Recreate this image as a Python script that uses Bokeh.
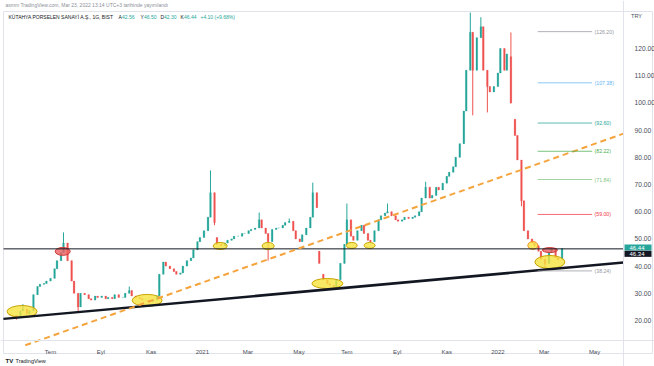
import pandas as pd
from bokeh.plotting import figure
from bokeh.models import (ColumnDataSource, Range1d, FixedTicker, NumeralTickFormatter,
                          CustomJSTickFormatter, Label, LinearAxis, DatetimeAxis, BoxAnnotation)
from bokeh.embed import file_html
from bokeh.resources import INLINE
from bokeh.core.properties import value

FONT = "Liberation Sans"
UP, DOWN = "#26a69a", "#ef5350"
DAY = 86400000

# ---------------- data ----------------
start_date = "2020-05-12"          # first bar, bars every 3 business days
first_open = 22.3
closes = [
    22.0, 21.8, 21.0, 23.5, 24.2, 22.5, 23.6, 29.5, 32.5, 33.3,
    33.6, 34.5, 35.5, 39.0, 42.0, 45.0, 48.5, 42.0, 34.5, 30.0,
    25.0, 30.0, 29.5, 28.0, 27.5, 29.0, 28.5, 29.0, 28.0, 28.5,
    28.0, 29.5, 28.5, 28.5, 30.0, 31.0, 29.0, 28.5, 28.0, 27.5,
    27.5, 27.0, 27.5, 29.0, 37.0, 41.5, 40.0, 39.0, 38.0, 37.0,
    37.5, 40.0, 42.0, 43.0, 46.0, 49.0, 50.5, 53.0, 58.0, 67.0,
    56.0, 48.0, 47.5, 48.5, 49.5, 50.0, 51.0, 51.0, 52.0, 52.0,
    53.0, 53.5, 54.0, 57.0, 54.0, 52.0, 49.0, 53.5, 54.0, 54.0,
    55.0, 56.0, 56.5, 53.0, 50.0, 49.0, 51.5, 54.0, 58.0, 67.0,
    61.5, 41.0, 35.0, 33.5, 33.0, 32.5, 35.0, 41.0, 48.0, 57.0,
    51.0, 49.5, 53.0, 55.0, 52.0, 49.5, 49.0, 53.0, 57.0, 58.5,
    59.5, 60.0, 58.5, 57.0, 56.5, 57.0, 58.0, 57.5, 58.0, 58.5,
    60.0, 65.0, 69.0, 65.0, 66.0, 69.0, 68.0, 70.5, 73.0, 74.5,
    76.5, 80.0, 85.0, 97.0, 112.0, 126.0, 112.0, 124.0, 128.0, 112.0,
    106.0, 104.0, 106.0, 111.0, 120.0, 112.0, 118.0, 100.0, 88.0, 79.0,
    64.0, 53.0, 50.0, 48.5, 47.5, 45.5, 42.5, 41.0, 45.0, 46.5,
    43.0, 42.34, 46.44,
]
gap_opens = {61: 50.5, 91: 45.5, 92: 37.0, 147: 117.0, 148: 94.0, 162: 42.56}
wick_highs = {4: 26.0, 16: 52.4, 35: 32.5, 59: 75.2, 73: 59.7, 82: 57.5, 89: 70.7,
              99: 63.0, 111: 63.0, 122: 71.0, 135: 133.2, 138: 131.5, 147: 125.9, 162: 46.50}
wick_lows = {2: 20.3, 20: 23.5, 60: 55.0, 76: 42.0, 136: 95.4, 140: 96.5, 147: 99.8,
             150: 62.0, 157: 39.5, 162: 42.30}

month_ticks = ["2020-07-01", "2020-09-01", "2020-11-02", "2021-01-04", "2021-03-01", "2021-05-03",
               "2021-07-01", "2021-09-01", "2021-11-01", "2022-01-03", "2022-03-01", "2022-05-02"]
month_labels = ["Tem", "Eyl", "Kas", "2021", "Mar", "May", "Tem", "Eyl", "Kas", "2022", "Mar", "May"]
price_ticks = [20, 30, 40, 50, 60, 70, 80, 90, 100, 110, 120]

fib_levels = [126.20, 107.38, 92.60, 82.22, 71.84, 59.00, 38.24]
fib_colors = ["#9598a1", "#64b5f6", "#26a69a", "#4caf50", "#81c784", "#f23645", "#9598a1"]
fib_start, fib_end, fib_label_at = "2022-02-21", "2022-04-29", "2022-05-02"

support_level = 46.34
last_price = 46.44

trend_dates = ["2020-05-04 00:00", "2022-06-06 16:00"]
trend_prices = [20.6, 41.3]
channel_dates = ["2020-05-31 00:00", "2022-06-06 16:00"]
channel_prices = [10.9, 88.7]

ell_dates = ["2020-05-27", "2020-07-16", "2020-10-28", "2021-01-26", "2021-03-26", "2021-06-07",
             "2021-07-07", "2021-07-29", "2022-02-15", "2022-03-08", "2022-03-08"]
ell_prices = [23.3, 45.4, 27.4, 47.4, 47.4, 33.6, 47.6, 47.6, 47.6, 45.9, 41.5]
ell_w_days = [36.9, 18.5, 36.9, 17.2, 14.8, 38.2, 13.5, 13.5, 12.3, 18.5, 36.9]
ell_h_price = [4.4, 2.9, 4.4, 2.6, 2.6, 3.7, 2.2, 2.2, 2.9, 1.8, 4.8]
ell_kind = ["y", "r", "y", "y", "y", "y", "y", "y", "o", "r", "y"]

# ---------------- derived candle table ----------------
dates = pd.bdate_range(start=start_date, periods=len(closes), freq="3B")
opens = [first_open] + [gap_opens.get(i, closes[i - 1]) for i in range(1, len(closes))]
highs = [max(o, c, wick_highs.get(i, c)) for i, (o, c) in enumerate(zip(opens, closes))]
lows = [min(o, c, wick_lows.get(i, c)) for i, (o, c) in enumerate(zip(opens, closes))]
colors = [UP if c >= o else DOWN for o, c in zip(opens, closes)]
src = ColumnDataSource(dict(date=dates, open=opens, close=closes, high=highs, low=lows, color=colors))


def ms(d):
    return pd.Timestamp(d).value // 10**6


def ts(lst):
    return [pd.Timestamp(d) for d in lst]


# layout: the frame covers the whole canvas; axes are pinned at fixed locations
scale_edge = ms("2022-06-06 16:00")   # where the price scale begins
time_edge = 12.65                     # where the time scale begins
chart_left = ms("2020-05-04 03:00")

p = figure(width=654, height=366, x_axis_location=None, y_axis_location=None,
           output_backend="svg", toolbar_location=None, title=None,
           x_range=Range1d(ms("2020-04-30 10:00"), ms("2022-07-14 20:00")),
           y_range=Range1d(3.09, 137.65),
           min_border_left=0, min_border_right=0, min_border_top=0, min_border_bottom=0)
p.outline_line_color = None
p.background_fill_color = "white"
p.border_fill_color = "white"
p.xgrid.visible = False
p.ygrid.visible = False

# light chart border
p.add_layout(BoxAnnotation(left=3, right=652, top=355, bottom=13,
                           left_units="screen", right_units="screen",
                           top_units="screen", bottom_units="screen",
                           fill_color=None, fill_alpha=0, line_color="#e0e3eb",
                           line_alpha=1, line_width=1, level="underlay"))

yax = LinearAxis(fixed_location=scale_edge, ticker=FixedTicker(ticks=price_ticks),
                 formatter=NumeralTickFormatter(format="0.00"))
yax.major_label_text_font_size = "6.7px"
yax.major_label_text_font = FONT
yax.major_label_text_color = "#4a4e59"
yax.major_label_standoff = 5
yax.major_tick_line_color = None
yax.minor_tick_line_color = None
yax.axis_line_color = "#e0e3eb"
p.add_layout(yax, "right")

tick_ms = [ms(d) for d in month_ticks]
xax = DatetimeAxis(fixed_location=time_edge, ticker=FixedTicker(ticks=tick_ms),
                   formatter=CustomJSTickFormatter(
                       args=dict(tpos=tick_ms, tlab=month_labels),
                       code="const i = tpos.indexOf(tick); return i < 0 ? '' : tlab[i];"))
xax.major_label_text_font_size = "6px"
xax.major_label_text_font = FONT
xax.major_label_text_color = "#4a4e59"
xax.major_label_standoff = 3
xax.major_tick_line_color = None
xax.minor_tick_line_color = None
xax.axis_line_color = "#e0e3eb"
p.add_layout(xax, "below")

# candles
p.segment(x0="date", y0="high", x1="date", y1="low", line_color="color", line_width=1, source=src)
p.vbar(x="date", width=2.0 * DAY, top="open", bottom="close", fill_color="color",
       line_color="color", line_width=0.3, source=src)

# ellipses
fills = {"y": "#f6e33f", "r": "#ee5f5f", "o": "#f6e33f"}
edges = {"y": "#c9a400", "r": "#c93a3a", "o": "#f08a24"}
esrc = ColumnDataSource(dict(
    x=ts(ell_dates), y=ell_prices,
    w=[d * DAY for d in ell_w_days], h=ell_h_price,
    fc=[fills[k] for k in ell_kind], lc=[edges[k] for k in ell_kind]))
p.ellipse(x="x", y="y", width="w", height="h", fill_color="fc", fill_alpha=0.8,
          line_color="lc", line_width=1, source=esrc)

# horizontal support ray
p.segment(x0=[chart_left], y0=[support_level], x1=[scale_edge], y1=[support_level],
          line_color="#131722", line_width=1)

# trend lines
p.line(x=ts(trend_dates), y=trend_prices, line_color="#131722", line_width=2.5)
p.line(x=ts(channel_dates), y=channel_prices, line_color="#f5a33c",
       line_width=2, line_dash="6 4")

# fibonacci
n = len(fib_levels)
p.segment(x0=ts([fib_start] * n), y0=fib_levels,
          x1=ts([fib_end] * n), y1=fib_levels,
          line_color=fib_colors, line_width=1, line_alpha=0.75)
p.text(x=ts([fib_label_at] * n), y=fib_levels,
       text=["(%.2f)" % v for v in fib_levels], text_color=fib_colors,
       text_font=value(FONT), text_font_size="5.2px", text_baseline="middle", text_align="left")

# price-scale tags
p.add_layout(Label(x=scale_edge, y=last_price, x_offset=1, y_offset=1,
                   text="%.2f" % last_price, text_font=FONT, text_font_size="6px",
                   text_color="white", text_baseline="middle", background_fill_color=UP,
                   padding=dict(left=5, right=7, top=1, bottom=1)))
p.add_layout(Label(x=scale_edge, y=support_level, x_offset=1, y_offset=-5,
                   text="%.2f" % support_level, text_font=FONT, text_font_size="6px",
                   text_color="white", text_baseline="middle", background_fill_color="#131722",
                   padding=dict(left=5, right=7, top=1, bottom=1)))
p.add_layout(Label(x=636, x_units="screen", y=351, y_units="screen", text="TRY",
                   text_font=FONT, text_font_size="5.5px", text_color="#4a4e59",
                   text_align="center", text_baseline="middle"))

# header texts (screen units from the bottom-left corner)
def hdr(x, txt, color, size="5px", y=349.5, style="normal"):
    p.add_layout(Label(x=x, x_units="screen", y=y, y_units="screen", text=txt,
                       text_font=FONT, text_font_size=size, text_color=color,
                       text_baseline="middle", text_font_style=style))

hdr(5, "asmm TradingView.com, Mar 23, 2022 13:14 UTC+3 tarihinde yayımlandı", "#8c8f99",
    size="5px", y=362)
hdr(8, "KÜTAHYA PORSELEN SANAYİ A.Ş., 1G, BIST", "#131722")
hdr(118, "A", "#131722"); hdr(121.5, "42.56", UP)
hdr(140, "Y", "#131722"); hdr(143.5, "46.50", UP)
hdr(160, "D", "#131722"); hdr(163.5, "42.30", UP)
hdr(180, "K", "#131722"); hdr(183.5, "46.44", UP)
hdr(200, "+4.10", UP); hdr(214, "(+9.68%)", UP)

# logo
hdr(5, "TV", "#131722", size="6px", y=6, style="bold")
hdr(15, "TradingView", "#131722", size="5.5px", y=6)

open("out.html", "w").write(file_html(p, INLINE))
